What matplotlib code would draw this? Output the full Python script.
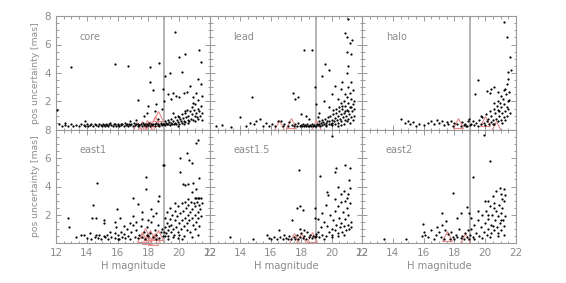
import matplotlib
matplotlib.use("Agg")
import matplotlib.pyplot as plt
from matplotlib.ticker import MultipleLocator

panel_names = ["core", "lead", "halo", "east1", "east1.5", "east2"]
x_ticks = [12, 14, 16, 18, 20, 22]
y_ticks = [2, 4, 6, 8]
mag_limit = 19

core = [(12.2,0.4),(12.4,0.3),(12.6,0.35),(12.8,0.3),(13.0,0.4),(13.1,0.3),(13.3,0.35),(13.5,0.3),(13.6,0.45),(13.8,0.35),(13.9,0.3),(14.0,0.4),(14.1,0.3),(14.2,0.35),(14.3,0.45),(14.4,0.3),(14.5,0.4),(14.6,0.35),(14.7,0.3),(14.8,0.45),(14.9,0.35),(15.0,0.3),(15.05,0.4),(15.1,0.35),(15.2,0.3),(15.25,0.45),(15.3,0.35),(15.4,0.3),(15.45,0.4),(15.5,0.5),(15.6,0.35),(15.7,0.3),(15.75,0.4),(15.8,0.45),(15.9,0.3),(16.0,0.4),(16.05,0.35),(16.1,0.3),(16.2,0.45),(16.25,0.35),(16.3,0.4),(16.4,0.3),(16.5,0.5),(16.55,0.35),(16.6,0.4),(16.7,0.3),(16.75,0.45),(16.8,0.35),(16.9,0.4),(17.0,0.3),(17.05,0.5),(17.1,0.35),(17.2,0.4),(17.3,0.3),(17.35,0.45),(17.4,0.35),(17.5,0.4),(17.6,0.3),(17.65,0.5),(17.7,0.35),(17.8,0.4),(17.85,0.3),(17.9,0.45),(18.0,0.35),(18.05,0.5),(18.1,0.3),(18.2,0.4),(18.25,0.35),(18.3,0.45),(18.4,0.3),(18.45,0.4),(18.5,0.5),(18.6,0.35),(18.65,0.45),(18.7,0.3),(18.8,0.4),(18.85,0.5),(18.9,0.35),(18.95,0.45),
(19.0,0.4),(19.05,0.6),(19.1,0.35),(19.15,0.5),(19.2,0.45),(19.25,0.7),(19.3,0.4),(19.35,0.55),(19.4,0.35),(19.45,0.8),(19.5,0.5),(19.55,0.4),(19.6,0.65),(19.65,0.45),(19.7,0.9),(19.75,0.5),(19.8,0.4),(19.85,0.7),(19.9,0.55),(19.95,1.0),(20.0,0.45),(20.05,0.75),(20.1,0.6),(20.15,1.1),(20.2,0.5),(20.25,0.85),(20.3,0.65),(20.35,1.2),(20.4,0.55),(20.45,0.9),(20.5,1.4),(20.55,0.7),(20.6,1.0),(20.65,0.6),(20.7,1.3),(20.75,0.8),(20.8,1.6),(20.85,1.1),(20.9,0.7),(20.95,1.4),(21.0,1.0),(21.05,1.8),(21.1,1.2),(21.15,0.9),(21.2,1.5),(21.25,2.1),(21.3,1.3),(21.35,1.0),(21.4,1.7),(21.45,2.4),(21.5,1.2),(21.2,0.8),(20.6,0.5),(20.0,0.9),(19.6,1.2),(20.4,1.3),(20.9,1.9),(21.1,2.6),(21.4,3.2),(21.5,0.7),(20.3,0.4),(19.9,0.3),(21.0,0.6),
(12.05,1.4),(12.95,4.45),(15.85,4.65),(16.65,4.5),(18.1,4.45),(18.7,4.7),(19.75,6.85),(20.35,5.3),(20.0,5.1),(20.2,4.1),(19.4,4.0),(19.1,3.8),(18.1,3.4),(18.3,2.8),(18.95,2.9),(17.3,2.1),(18.0,1.7),(18.5,1.8),(17.7,1.0),(17.9,1.2),(18.4,1.3),(18.9,1.5),(19.0,2.0),(19.3,2.5),(19.6,2.6),(19.8,2.4),(19.5,2.2),(20.0,2.3),(20.3,2.6),(20.5,2.7),(20.7,3.1),(20.9,2.3),(21.2,3.6),(21.4,4.8),(21.3,5.6),(18.6,0.8),(17.2,0.7),(16.8,0.6),(13.9,0.6),(12.6,0.5)]

lead = [(12.4,0.3),(12.8,0.35),(13.4,0.2),(14.35,0.3),(14.6,0.5),(14.9,0.4),(15.0,0.6),(15.3,0.8),(15.5,0.3),(15.7,0.5),(15.9,0.3),(16.1,0.45),(16.3,0.3),(16.5,0.6),(16.7,0.65),(16.8,0.3),(16.9,0.4),(17.1,0.3),(17.2,0.55),(17.4,0.35),(17.5,0.25),(17.6,0.4),(17.7,0.3),(17.8,0.5),(17.9,0.25),(18.0,0.35),(18.05,0.3),(18.1,0.45),(18.2,0.25),(18.25,0.35),(18.3,0.3),(18.4,0.4),(18.45,0.25),(18.5,0.3),(18.6,0.35),(18.65,0.25),(18.7,0.4),(18.8,0.3),(18.85,0.35),(18.9,0.25),
(13.95,0.9),(14.75,2.35),(17.45,2.6),(17.8,2.35),(17.6,2.2),(18.17,5.6),(18.7,5.6),(18.9,3.0),(19.4,3.8),(19.55,4.65),(19.86,4.2),(21.06,7.8),(20.87,6.8),(21.0,6.5),(21.37,6.35),(21.24,6.1),(21.0,5.45),(21.3,5.3),(21.06,4.5),(21.0,4.0),(20.7,3.4),(20.2,3.1),(20.6,2.9),(20.06,-0.35),(18.3,1.0),(18.5,0.8),(18.0,1.1),(19.0,1.8),(19.2,1.2),(19.5,2.0),(19.8,1.6),(20.0,2.5),(20.4,2.2),(19.1,0.9),
(19.0,0.3),(19.05,0.45),(19.1,0.35),(19.15,0.6),(19.2,0.4),(19.25,0.3),(19.3,0.5),(19.35,0.7),(19.4,0.35),(19.45,0.55),(19.5,0.4),(19.55,0.8),(19.6,0.5),(19.65,0.35),(19.7,0.65),(19.75,0.9),(19.8,0.45),(19.85,0.6),(19.9,1.0),(19.95,0.4),(20.0,0.7),(20.05,0.5),(20.1,1.1),(20.15,0.6),(20.2,0.85),(20.25,0.4),(20.3,1.2),(20.35,0.7),(20.4,0.95),(20.45,0.5),(20.5,1.3),(20.55,0.8),(20.6,1.1),(20.65,0.6),(20.7,1.5),(20.75,0.9),(20.8,1.2),(20.85,0.7),(20.9,1.7),(20.95,1.0),(21.0,1.4),(21.05,0.8),(21.1,1.9),(21.15,1.1),(21.2,1.6),(21.25,0.9),(21.3,2.2),(21.35,1.3),(21.4,1.8),(21.45,1.0),(21.5,1.5),(20.6,1.9),(20.8,2.0),(21.0,2.3),(21.2,2.6),(21.4,2.8),(20.9,2.5),(21.1,3.0),(21.3,3.4),(20.7,1.7),(20.5,1.6),(20.3,1.5),(20.1,1.4),(20.9,1.3),(21.1,1.3),(21.3,1.6),(21.5,2.0),(21.0,0.6),(20.4,0.3),(20.8,0.4),(21.2,0.5),(19.6,0.3),(20.0,0.35),(21.4,0.7),(20.6,0.35)]

halo = [(14.5,0.75),(14.8,0.5),(15.0,0.6),(15.1,0.4),(15.3,0.55),(15.5,0.3),(15.7,0.45),(16.0,0.35),(16.3,0.5),(16.5,0.65),(16.7,0.4),(16.9,0.7),(17.0,0.5),(17.2,0.6),(17.3,0.35),(17.5,0.55),(17.6,0.4),(17.8,0.65),(17.9,0.3),(18.0,0.5),(18.2,0.4),(18.4,0.3),(18.5,0.55),(18.6,0.35),(18.7,0.45),(18.8,0.3),(18.9,0.6),(19.0,0.35),(18.95,0.8),(18.75,0.25),
(21.25,7.55),(21.4,6.5),(21.6,5.15),(21.48,4.1),(21.7,4.2),(19.5,3.5),(19.35,2.5),(20.14,2.75),(20.3,2.6),(20.6,3.0),(20.8,2.7),(20.4,2.9),(19.94,-0.35),(21.4,3.2),(21.5,3.6),(21.3,2.9),
(19.1,0.4),(19.2,0.6),(19.3,0.35),(19.4,0.5),(19.5,0.3),(19.6,0.7),(19.7,0.45),(19.8,0.9),(19.9,0.5),(20.0,0.35),(20.05,1.1),(20.1,0.6),(20.2,0.8),(20.25,0.4),(20.3,1.3),(20.35,0.55),(20.4,1.0),(20.5,0.7),(20.55,1.5),(20.6,0.45),(20.65,1.2),(20.7,0.8),(20.75,1.7),(20.8,0.6),(20.85,1.4),(20.9,1.0),(20.95,1.9),(21.0,0.7),(21.05,1.6),(21.1,1.2),(21.15,2.2),(21.2,0.9),(21.25,1.8),(21.3,1.3),(21.35,2.5),(21.4,1.0),(21.45,2.0),(21.5,1.5),(21.55,2.7),(21.6,1.2),(21.0,2.4),(20.8,2.0),(20.6,1.9),(21.2,2.8),(21.4,1.6),(21.55,2.1),(20.9,1.3),(21.1,0.5),(21.3,0.7),(20.5,0.4),(19.7,1.0)]

east1 = [(13.3,0.45),(13.6,0.6),(13.8,0.55),(14.0,0.35),(14.2,0.7),(14.3,0.3),(14.5,0.45),(14.7,0.35),(14.8,0.6),(14.9,0.25),(15.1,0.5),(15.2,0.4),(15.4,0.3),(15.5,0.8),(15.6,0.45),(15.8,0.35),(15.9,1.1),(16.0,0.6),(16.1,0.3),(16.2,0.8),(16.3,0.45),(16.4,0.65),(16.5,0.35),(16.6,1.0),(16.7,0.5),(16.8,0.3),(16.9,0.75),(17.0,1.3),(17.1,0.45),(17.2,0.9),(17.3,0.35),(17.4,0.6),(17.5,1.2),(17.6,0.4),(17.7,0.8),(17.8,0.3),(17.9,1.1),(18.0,0.5),(18.1,0.7),(18.2,1.5),(18.3,0.4),(18.4,0.9),(18.5,0.6),(18.6,1.3),(18.7,0.35),(18.8,0.8),(18.9,1.0),(18.95,0.5),(18.3,1.9),(18.0,1.6),(17.6,1.7),(17.2,1.5),(16.8,1.4),(16.4,1.2),(15.8,0.7),(15.3,0.6),(14.6,0.6),(17.9,0.6),(18.5,0.3),(16.0,0.25),
(12.8,1.8),(12.84,1.13),(14.64,4.28),(14.42,2.67),(14.36,1.75),(14.6,1.8),(15.1,1.6),(15.1,1.4),(15.94,2.4),(16.16,1.75),(15.83,1.5),(16.98,3.2),(17.3,2.75),(17.82,4.7),(17.82,3.8),(18.67,3.3),(18.6,2.95),(18.95,5.5),(19.03,5.55),(20.03,5.0),(20.05,6.0),(20.5,6.4),(20.66,5.9),(20.8,5.65),(21.09,7.1),(21.2,7.3),(20.23,4.15),(20.35,4.1),(20.6,4.2),(20.9,4.25),(21.1,3.8),(20.8,3.6),(21.3,4.6),(18.2,2.4),(18.5,2.1),(17.6,2.2),(17.0,1.9),
(21.0,3.2),(21.1,3.2),(21.2,3.2),(21.3,3.2),(21.4,3.2),
(19.0,0.8),(19.05,0.5),(19.1,1.1),(19.15,0.7),(19.2,1.4),(19.25,0.9),(19.3,0.5),(19.35,1.2),(19.4,1.7),(19.45,0.8),(19.5,1.3),(19.55,2.0),(19.6,1.0),(19.65,0.6),(19.7,1.6),(19.75,2.3),(19.8,1.1),(19.85,1.9),(19.9,0.8),(19.95,2.6),(20.0,1.4),(20.05,2.1),(20.1,1.0),(20.15,2.8),(20.2,1.6),(20.25,2.3),(20.3,1.2),(20.35,2.9),(20.4,1.8),(20.45,2.5),(20.5,1.4),(20.55,2.0),(20.6,2.7),(20.65,1.6),(20.7,2.2),(20.75,2.9),(20.8,1.8),(20.85,2.4),(20.9,1.3),(20.95,2.8),(21.0,2.0),(21.05,2.6),(21.1,1.5),(21.15,2.9),(21.2,2.2),(21.25,1.8),(21.3,2.7),(21.35,2.4),(21.4,1.9),(21.45,2.8),(19.3,0.3),(19.6,0.4),(20.0,0.6),(20.3,0.5),(20.7,0.8),(21.0,1.0),(21.3,1.2),(20.5,0.9),(19.9,0.35),(20.2,0.3),(20.8,0.45),(21.2,0.6),(19.7,2.8),(19.4,2.5),(20.6,3.1),(19.2,2.2),(19.1,1.8)]

east15 = [(13.3,0.4),(14.83,0.26),(15.76,0.55),(15.9,0.35),(16.0,0.3),(16.2,0.45),(16.4,0.25),(16.57,0.92),(16.6,0.4),(16.8,0.3),(16.9,0.55),(17.0,0.35),(17.1,0.25),(17.2,0.5),(17.3,0.3),(17.5,0.45),(17.6,0.25),(17.7,0.6),(17.8,0.3),(17.9,0.4),(18.0,0.7),(18.1,0.35),(18.2,0.5),(18.3,0.3),(18.4,0.8),(18.5,0.4),(18.6,0.55),(18.7,0.35),(18.8,0.5),(18.9,0.4),(18.95,0.65),(18.2,0.9),(17.9,1.0),
(20.0,7.6),(20.9,5.5),(21.24,5.3),(20.26,5.3),(20.2,5.05),(17.84,5.2),(19.23,4.75),(21.15,4.47),(20.4,4.0),(19.78,3.4),(19.7,3.6),(17.72,2.5),(17.95,2.6),(18.14,2.35),(18.93,2.45),(17.37,1.6),(18.93,1.75),(19.1,1.7),(20.8,3.7),(21.0,3.2),(20.6,3.5),(21.2,3.9),
(19.0,0.5),(19.1,0.8),(19.2,0.4),(19.3,1.1),(19.4,0.6),(19.5,1.5),(19.6,0.5),(19.7,1.2),(19.8,0.8),(19.9,2.0),(20.0,1.0),(20.05,0.6),(20.1,1.6),(20.2,2.3),(20.25,0.9),(20.3,1.3),(20.4,2.6),(20.45,0.7),(20.5,1.8),(20.55,1.1),(20.6,2.9),(20.65,1.4),(20.7,0.8),(20.75,2.2),(20.8,1.2),(20.85,3.0),(20.9,1.7),(20.95,0.9),(21.0,2.5),(21.05,1.3),(21.1,2.0),(21.15,1.0),(21.2,2.8),(21.25,1.5),(21.3,1.1),(19.5,0.3),(20.0,0.4),(20.4,0.5),(20.8,0.6),(19.4,2.1),(19.6,2.7),(20.2,3.1),(21.1,3.5)]

east2 = [(13.43,0.3),(14.86,0.3),(15.9,0.5),(16.0,0.8),(16.1,0.6),(16.3,0.4),(16.5,0.9),(16.7,0.3),(16.8,0.6),(17.0,0.8),(17.1,0.4),(17.3,0.3),(17.4,0.95),(17.6,0.65),(17.7,0.3),(17.8,0.8),(17.9,0.45),(18.0,0.3),(18.1,0.6),(18.2,0.4),(18.3,1.0),(18.4,0.35),(18.5,0.5),(18.6,0.3),(18.7,0.7),(18.8,0.4),(18.9,0.9),(18.95,0.3),(16.9,1.1),(17.2,1.3),(15.98,1.35),
(19.92,7.66),(20.3,5.84),(19.19,4.7),(17.93,3.57),(17.18,2.1),(18.4,2.15),(18.8,2.58),(18.15,1.75),(17.45,1.58),(18.97,2.1),(19.1,1.8),(20.96,3.88),(21.2,3.8),(20.7,3.7),(21.0,3.5),(20.5,3.3),(21.3,3.4),(20.2,3.0),(20.0,2.95),(21.1,3.1),
(19.0,0.6),(19.1,1.0),(19.2,0.4),(19.3,1.3),(19.4,0.7),(19.5,1.6),(19.6,0.5),(19.7,1.1),(19.8,2.0),(19.9,0.8),(20.0,1.4),(20.05,2.3),(20.1,0.6),(20.15,1.7),(20.2,1.0),(20.3,2.6),(20.35,1.3),(20.4,0.7),(20.45,2.0),(20.5,1.2),(20.55,2.8),(20.6,0.9),(20.65,1.6),(20.7,2.3),(20.75,1.1),(20.8,1.9),(20.85,0.7),(20.9,2.7),(20.95,1.4),(21.0,2.1),(21.05,0.9),(21.1,2.5),(21.15,1.6),(21.2,1.2),(21.25,3.0),(21.3,1.9),(19.3,0.3),(19.8,0.35),(20.3,0.4),(20.8,0.5),(21.2,0.6),(19.5,2.3),(20.2,2.0),(20.6,2.5),(21.0,1.6)]

tri_core = [(17.24,0.23),(17.6,0.3),(17.9,0.35),(18.1,0.3),(18.0,0.2),(18.4,0.65),(18.65,0.95)]
tri_lead = [(16.57,0.35),(17.33,0.47),(18.97,0.35)]
tri_halo = [(18.25,0.47),(20.0,0.6),(20.7,0.3)]
tri_east1 = [(17.6,0.45),(17.9,0.3),(18.1,0.55),(18.4,0.35),(18.6,0.6),(17.8,0.7),(18.3,0.2)]
tri_east15 = [(17.55,0.33),(18.0,0.38),(18.7,0.45)]
tri_east2 = [(17.55,0.5),(18.7,0.33)]

stars = [core, lead, halo, east1, east15, east2]
tris = [tri_core, tri_lead, tri_halo, tri_east1, tri_east15, tri_east2]

W, H = 566, 283
fig = plt.figure(figsize=(W/100, H/100), dpi=100)
gray = "#9a9a9a"
tgray = "#8c8c8c"
lefts = [56, 210, 362]
widths = [154, 152, 154]
rows = [(16, 130), (130, 243)]

for i, name in enumerate(panel_names):
    r, c = divmod(i, 3)
    top, bot = rows[r]
    ax = fig.add_axes([lefts[c]/W, 1 - bot/H, widths[c]/W, (bot-top)/H])
    ax.set_xlim(12, 22)
    ax.set_ylim(0, 8)
    ax.axvline(mag_limit, color="#b0b0b0", lw=1.3, zorder=1)
    xs = [p[0] for p in stars[i]]
    ys = [p[1] for p in stars[i]]
    ax.plot(xs, ys, "o", ms=1.6, color="black", mec="none", clip_on=False, zorder=3)
    tx = [p[0] for p in tris[i]]
    ty = [p[1] for p in tris[i]]
    ax.plot(tx, ty, "^", ms=7, mfc="none", mec="#e58a8a", mew=0.8, zorder=2, clip_on=False)
    ax.text(0.155, 0.82, name, transform=ax.transAxes, fontsize=7, color=tgray,
            ha="left", va="center")
    for s in ax.spines.values():
        s.set_color(gray)
        s.set_linewidth(0.8)
    ax.xaxis.set_major_locator(MultipleLocator(2))
    ax.xaxis.set_minor_locator(MultipleLocator(0.5))
    ax.yaxis.set_major_locator(MultipleLocator(2))
    ax.yaxis.set_minor_locator(MultipleLocator(0.5))
    ax.tick_params(which="both", direction="in", top=True, right=True, color=gray,
                   labelcolor=tgray, labelsize=7.5, width=0.7)
    ax.tick_params(which="major", length=3.5)
    ax.tick_params(which="minor", length=1.8)
    if r == 1:
        ax.set_xticks(x_ticks)
        ax.set_xticklabels([str(v) for v in x_ticks])
        ax.set_xlabel("H magnitude", fontsize=7.2, color=tgray, labelpad=2)
    else:
        ax.set_xticklabels([])
    if c == 0:
        ax.set_yticks(y_ticks)
        ax.set_yticklabels([str(v) for v in y_ticks])
        ax.set_ylabel("pos uncertainty [mas]", fontsize=6.6, color=tgray, labelpad=3)
    else:
        ax.set_yticklabels([])

fig.savefig("out.png", dpi=100)
